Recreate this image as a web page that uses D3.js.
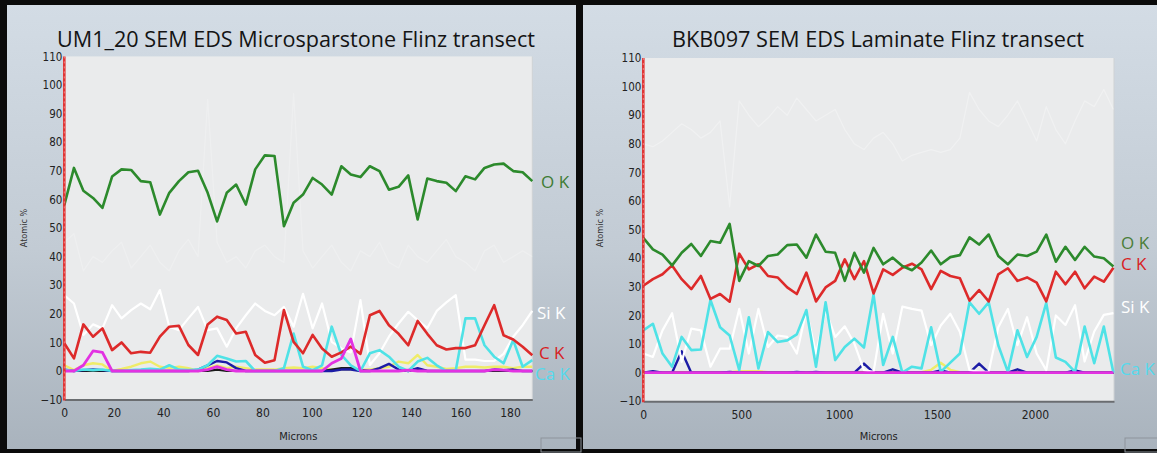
<!DOCTYPE html>
<html><head><meta charset="utf-8">
<script src="https://cdn.jsdelivr.net/npm/d3@7"></script>
<style>
html,body{margin:0;padding:0;background:#0b0b0b;overflow:hidden}
svg{display:block}
</style></head><body>
<svg id="c" width="1157" height="453"></svg>
<script>
// ---------------- DATA ----------------
const leftTitle = "UM1_20 SEM EDS Microsparstone Flinz transect";
const rightTitle = "BKB097 SEM EDS Laminate Flinz transect";

const leftMicrons = [0,3.9,7.7,11.6,15.4,19.3,23.1,27.0,30.9,34.7,38.6,42.4,46.3,50.1,54.0,57.9,61.7,65.6,69.4,73.3,77.1,81.0,84.9,88.7,92.6,96.4,100.3,104.1,108.0,111.9,115.7,119.6,123.4,127.3,131.1,135.0,138.9,142.7,146.6,150.4,154.3,158.1,162.0,165.9,169.7,173.6,177.4,181.3,185.1,189.0];
const leftOK = [58,71,63,60.5,57,68,70.5,70.3,66.4,66,54.7,62.3,66.4,69.5,70,62.3,52.3,62.3,65.2,58.2,70.5,75.4,75.2,50.6,58.8,61.7,67.5,65.2,61.7,71.6,68.7,67.8,71.6,69.9,63.4,64.4,68.4,53,67.3,66.4,65.8,62.9,68.1,67,71,72.2,72.5,69.9,69.5,66.4];
const leftCK = [9.7,4.4,16.3,12,14.9,7.3,10,6.2,6.7,6.4,12,15.5,15.8,9.1,5.6,16.3,19,17.8,13.1,13.7,5.6,2.9,3.8,21.3,10.2,6.2,12.6,7.9,5,6.5,8.5,6,19.5,21,16,13,9,17.5,13,9,7.5,8,8,9,16,23,12.5,11,8.5,5.5];
const leftSiK = [26.5,23.6,12.6,16.3,14.9,23,18.4,21.3,23.6,21.6,28.3,15.5,14.3,18.4,22.4,14.3,14.9,8.5,14.9,19.5,23.6,21,19.5,22.4,15.5,27,14.9,23.6,10.2,7.9,6.5,24.8,2.1,6.2,12,16.6,20.7,17.8,15,21,24,26.5,4,4,3.5,3.5,6,12,16,21];
const leftCaK = [0.5,0,0.5,0.3,0.5,0,0,0.3,0.5,0.8,0.5,2,0.5,0.3,0.5,2,5.3,4.4,3.3,3.5,0,0,0,1,13.1,1.5,0.3,2,15.5,5.6,2,0,6.2,7.3,5,1.5,0,3.3,4.6,2,0,0.3,18.4,18.4,9,5,2.7,10.8,1.5,3.8];
const leftMagenta = [0,0,2,7,6.5,0,0,0,0,0,0,0,0,0,0,0.5,1.5,0.5,0,0,0,0,0,0,0,0,0,0,2.7,4.4,11.2,0,0,0,0,0,0.3,0,0,0,0,0,0,0,0,0.5,0.3,0,0,0];
const leftYellow = [2,0.3,2,2.7,2.3,0,0.7,1.5,2.7,3.3,1.5,1,1.5,1,0,1,2,1,1.5,1,0.5,0.5,0.5,1,1.2,1,1.5,1,0.5,0.5,0.5,0.3,0.5,1,1.5,3.3,2.7,5.6,2,1.5,0.7,1,1.5,1.5,1.2,1.5,1.5,1,1.5,1.5];
const leftBlue = [0.5,0,0.3,0.5,0.3,0,0,0,0,0,0,0,0,0,0.5,2,3.5,3,1,0,0,0,0,0,0,0,0,0,0,0.5,0.5,0,0,1,2.5,0.5,0,1,0,0,0,0,0,0,0,0.5,0.3,0.5,0,0];
const leftBlack = [0,0,0,0,0,0,0,0,0,0,0,0,0,0,0,0,0.5,0,0,0,0,0,0,0,0,0,0,0,0.5,1,1,0.3,0,0,0,0,0,0.7,0,0,0,0,0,0,0,0,0,0,0,0];
const leftGhost = [45,48,35,40,38,42,45,36,40,44,38,35,42,46,40,95,45,38,40,36,42,44,40,38,97,42,36,40,44,38,35,42,40,45,38,36,44,40,38,42,46,40,38,35,42,44,38,40,42,40];

const rightMicrons = [0,49,98,147,196,245,294,343,392,441,490,539,588,637,686,735,784,833,882,931,980,1029,1078,1127,1176,1225,1274,1323,1372,1421,1470,1519,1568,1617,1666,1715,1764,1813,1862,1911,1960,2009,2058,2107,2156,2205,2254,2303,2352,2401];
const rightOK = [47.1,43.1,41.3,37.5,41.9,45,40.8,46,45.4,52,32.1,39,37.3,40.8,41.3,44.6,44.8,40.2,48.3,42.3,41.9,32.1,41.9,35,43.6,37.9,40.2,37.3,35.8,38.5,42.7,37.9,40.4,41.1,47.3,44.8,48.3,40.8,37.9,41.3,40.8,42.3,48.3,38.8,44,39.4,44,40.6,40,37.1];
const rightCK = [30.4,32.7,34.4,37.5,32.7,29.2,33.8,25.8,27.5,24.8,41.6,36.1,37.9,33.8,33.3,29.8,27.5,35,24.9,29.8,32.1,39.6,32.7,39,27.7,36.1,34.2,36.7,38.1,36.1,29.2,35.6,33.8,33,25.2,28.9,24.9,34.4,36.5,32.1,33.3,31.5,24.9,35.3,30.9,35.3,29.5,33.6,31.8,36.7];
const rightSiK = [6.7,5.5,14.8,20.8,3.8,15.4,14.8,2.1,8.4,8.4,22.3,6.7,22.3,9,13,12.5,6.7,21.7,6.7,21.7,12.5,16.2,10.2,0.9,0.3,20.6,6.7,23.1,22.3,21.7,9.6,16.5,20.6,14.2,0.9,0.3,0.3,15.9,22.3,9.6,19.4,6.7,0.9,20,16.7,23.6,3.9,14.4,20.2,20.8];
const rightCaK = [14.8,17.1,6.7,2.1,12.5,7.9,8.1,25.4,15.9,13,0.9,19.4,1.5,14.2,10.7,11.3,13.4,21.9,2.1,24.6,4.4,9,11.9,8.8,27.3,2.7,12.5,0,2.1,1.5,15.9,0.3,3.5,6.7,24.6,20.6,24.6,9.6,0.3,14.8,5.5,12.5,24.4,5.3,3.8,0.3,16.1,3.3,16.1,0];
const rightMagenta = [0,0,0,0,0,0,0,0,0,0,0,0,0,0,0,0,0,0,0,0,0,0,0,0,0,0,0,0,0,0,0,0,0,0,0,0,0,0,0,0,0,0,0,0,0,0,0,0,0,0];
const rightYellow = [0.2,0.2,0.2,0.2,0.2,0.2,0.2,0.2,0.2,0.2,0.5,0.5,0.5,0.2,0.2,0.2,0.2,0.2,0.2,0.2,0.2,0.2,0.2,0.2,0.2,0.2,0.2,0.2,0.2,0.2,1,3.5,1,0.2,0.2,0.2,0.2,0.2,0.2,0.2,0.2,0.2,0.2,0.2,0.2,0.2,0.2,0.2,0.2,0.2];
const rightBlue = [0,0.5,0,0,7.5,0,0,0,0,0.3,0,0,0,0,0,0,0.3,0,0.3,0,0,0,0,3.2,0,0,1.2,0,0,0,0,0.8,0,0,0,3.2,0,0,0,1.2,0,0,0,0,0,0.8,0,0,0,0];
const rightGhost = [80,79,81,84,87,85,82,84,88,58,95,90,86,89,93,90,96,92,88,90,92,85,80,78,82,84,80,74,76,77,78,77,78,82,98,92,88,86,90,95,88,81,93,85,80,88,95,93,99,92];

const yTickValues = [-10,0,10,20,30,40,50,60,70,80,90,100,110];
const leftXTicks = [0,20,40,60,80,100,120,140,160,180];
const rightXTicks = [0,500,1000,1500,2000];

// ---------------- DRAWING ----------------
const svg = d3.select('#c');
const defs = svg.append('defs');
const grad = defs.append('linearGradient').attr('id','bg').attr('x1',0).attr('y1',0).attr('x2',0).attr('y2',1);
grad.append('stop').attr('offset','0%').attr('stop-color','#d3dce5');
grad.append('stop').attr('offset','55%').attr('stop-color','#c2cbd4');
grad.append('stop').attr('offset','100%').attr('stop-color','#a9b3bd');

const tickFont = "'Liberation Sans Narrow','Arial Narrow','DejaVu Sans Condensed',sans-serif";
const titleFont = "'Open Sans','Noto Sans',sans-serif";

function drawPanel(cfg) {
  const g = svg.append('g');
  g.append('rect').attr('x', cfg.px).attr('y', 5).attr('width', cfg.pw).attr('height', 444).attr('fill', 'url(#bg)');

  g.append('text').attr('x', cfg.titleX).attr('y', 47).attr('text-anchor','middle')
    .attr('font-family', titleFont).attr('font-size', 22).attr('fill', '#141414')
    .attr('textLength', cfg.titleW).attr('lengthAdjust','spacingAndGlyphs')
    .text(cfg.title);

  const x = d3.scaleLinear().domain([0, cfg.xMax]).range([cfg.x0, cfg.x1]);
  const y = d3.scaleLinear().domain([-10, 110]).range([cfg.yBot, cfg.yTop]);

  g.append('rect').attr('x', cfg.x0).attr('y', cfg.yTop).attr('width', cfg.x1 - cfg.x0).attr('height', cfg.yBot - cfg.yTop).attr('fill', '#eaebec');
  g.append('line').attr('x1', cfg.x1).attr('x2', cfg.x1).attr('y1', cfg.yTop).attr('y2', cfg.yBot).attr('stroke','#cfd2d5').attr('stroke-width',1);

  const line = xs => d3.line().x((d,i) => x(xs[i])).y(d => y(d));

  const series = [
    {v: cfg.ghost, c: '#ffffff', w: 1.3, o: cfg.ghostOpacity},
    {v: cfg.yellow, c: '#f0ec5a', w: 2.4, o: 0.9},
    {v: cfg.black, c: '#1a1a1a', w: 2.2, o: 1},
    {v: cfg.blue, c: '#1c1ca6', w: 2.4, o: 1},
    {v: cfg.sik, c: '#ffffff', w: 2.2, o: 1},
    {v: cfg.cak, c: '#4fe2e6', w: 2.6, o: 1},
    {v: cfg.ck, c: '#dd2a2a', w: 2.6, o: 1},
    {v: cfg.ok, c: '#2c8a2c', w: 2.6, o: 1},
    {v: cfg.magenta, c: '#e232e2', w: 2.8, o: 1}
  ];
  series.forEach(s => {
    g.append('path').datum(s.v).attr('d', line(cfg.xs)).attr('fill','none')
      .attr('stroke', s.c).attr('stroke-width', s.w).attr('stroke-opacity', s.o)
      .attr('stroke-linejoin','round');
  });

  // x axis
  const xa = g.append('g').attr('transform', `translate(0,${cfg.yBot})`)
    .call(d3.axisBottom(x).tickValues(cfg.xTicks).tickFormat(d3.format('d')).tickSize(0).tickSizeOuter(0).tickPadding(9));
  xa.select('.domain').attr('stroke','#6a6d70').attr('stroke-width',2);
  xa.selectAll('text').attr('font-family', tickFont).attr('font-size', 12).attr('fill','#222');

  // y axis
  const ya = g.append('g').attr('transform', `translate(${cfg.x0},0)`)
    .call(d3.axisLeft(y).tickValues(yTickValues).tickFormat(d3.format('d')).tickSize(0).tickSizeOuter(0).tickPadding(2));
  ya.select('.domain').remove();
  ya.selectAll('text').attr('font-family', tickFont).attr('font-size', 11.5).attr('fill','#222');

  // red axis line
  g.append('line').attr('x1', cfg.x0).attr('x2', cfg.x0).attr('y1', cfg.yTop).attr('y2', cfg.yBot + 1)
    .attr('stroke','#e03535').attr('stroke-width',2.6);
  g.append('line').attr('x1', cfg.x0).attr('x2', cfg.x0).attr('y1', cfg.yTop).attr('y2', cfg.yBot)
    .attr('stroke','#f19a9a').attr('stroke-width',0.8).attr('stroke-dasharray','2,3');

  // axis titles
  g.append('text').attr('x', (cfg.x0 + cfg.x1) / 2).attr('y', 440).attr('text-anchor','middle')
    .attr('font-family', tickFont).attr('font-size', 11).attr('fill','#222').text('Microns');
  g.append('text').attr('transform', `translate(${cfg.px + 20},228) rotate(-90)`).attr('text-anchor','middle')
    .attr('font-family', tickFont).attr('font-size', 9).attr('fill','#333').text('Atomic %');

  // series labels
  cfg.labels.forEach(l => {
    g.append('text').attr('x', l.x).attr('y', l.y).attr('font-family', titleFont).attr('font-size', 17)
      .attr('fill', l.c).text(l.t);
  });

  // small corner box
  g.append('rect').attr('x', cfg.boxX).attr('y', 438).attr('width', 40).attr('height', 14)
    .attr('fill','none').attr('stroke','#8d949b').attr('stroke-width',1);
}

drawPanel({
  px: 7, pw: 569, title: leftTitle, titleX: 296, titleW: 478,
  x0: 64.3, x1: 532.3, yTop: 56.4, yBot: 399.6, xMax: 189, xTicks: leftXTicks,
  xs: leftMicrons, ok: leftOK, ck: leftCK, sik: leftSiK, cak: leftCaK, magenta: leftMagenta,
  yellow: leftYellow, blue: leftBlue, black: leftBlack, ghost: leftGhost, ghostOpacity: 0.22,
  labels: [
    {t:'O K', x:541, y:188, c:'#3e7b33'},
    {t:'Si K', x:537, y:319, c:'#ffffff'},
    {t:'C K', x:539, y:359, c:'#d8211f'},
    {t:'Ca K', x:535, y:380, c:'#56d9ec'}
  ],
  boxX: 541
});

drawPanel({
  px: 583, pw: 574, title: rightTitle, titleX: 878, titleW: 412,
  x0: 643.3, x1: 1114, yTop: 58, yBot: 401.3, xMax: 2404, xTicks: rightXTicks,
  xs: rightMicrons, ok: rightOK, ck: rightCK, sik: rightSiK, cak: rightCaK, magenta: rightMagenta,
  yellow: rightYellow, blue: rightBlue, black: rightMagenta, ghost: rightGhost, ghostOpacity: 0.3,
  labels: [
    {t:'O K', x:1121, y:249, c:'#4a7d38'},
    {t:'C K', x:1121, y:270, c:'#d8211f'},
    {t:'Si K', x:1121, y:313, c:'#ffffff'},
    {t:'Ca K', x:1120, y:375, c:'#56d9ec'}
  ],
  boxX: 1125
});
</script>
</body></html>
